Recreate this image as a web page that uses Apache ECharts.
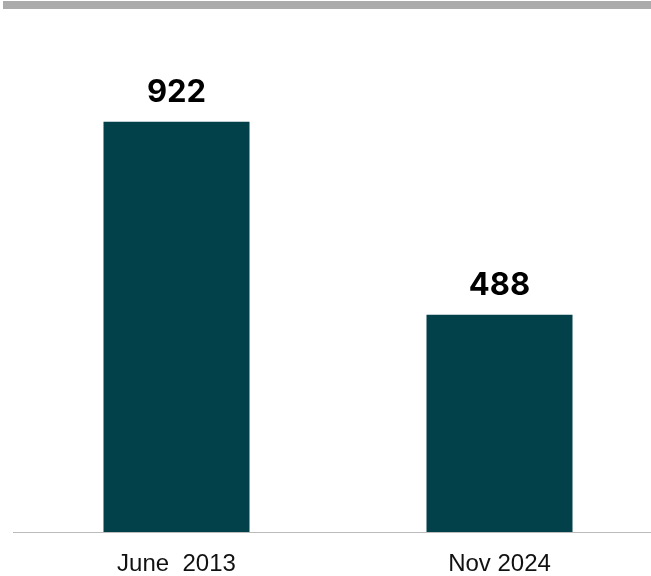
<!DOCTYPE html>
<html><head><meta charset="utf-8">
<script src="https://cdn.jsdelivr.net/npm/echarts@6/dist/echarts.min.js"></script>
<style>html,body{margin:0;padding:0;background:#fff;overflow:hidden}#c{width:661px;height:576px}</style>
</head><body><div id="c"></div>
<script>
const categories = ['June  2013', 'Nov 2024'];
const values = [922, 488];

const chart = echarts.init(document.getElementById('c'), null, {renderer: 'canvas'});
chart.setOption({
  animation: false,
  backgroundColor: '#ffffff',
  graphic: [{
    type: 'rect',
    shape: {x: 3, y: 1, width: 660, height: 8},
    style: {fill: '#ababab'}
  }, {
    type: 'line',
    shape: {x1: 13, y1: 532.5, x2: 661, y2: 532.5},
    style: {stroke: '#bbbbbb', lineWidth: 1}
  }],
  grid: {left: 15, top: 87, right: 0, height: 445, containLabel: false},
  xAxis: {
    type: 'category', data: categories,
    axisLine: {show: false},
    axisTick: {show: false},
    axisLabel: {color: '#111111', fontFamily: 'Liberation Sans', fontSize: 24, margin: 20}
  },
  yAxis: {
    type: 'value', min: 0, max: 1000, show: false, splitLine: {show: false}
  },
  series: [{
    type: 'bar', data: values, barWidth: 146, z: 1,
    itemStyle: {color: '#02414a'},
    label: {
      show: true, position: 'top', distance: 14,
      fontFamily: 'Inter', fontWeight: 'bold', fontSize: 31, color: '#000000'
    }
  }]
});
</script></body></html>
